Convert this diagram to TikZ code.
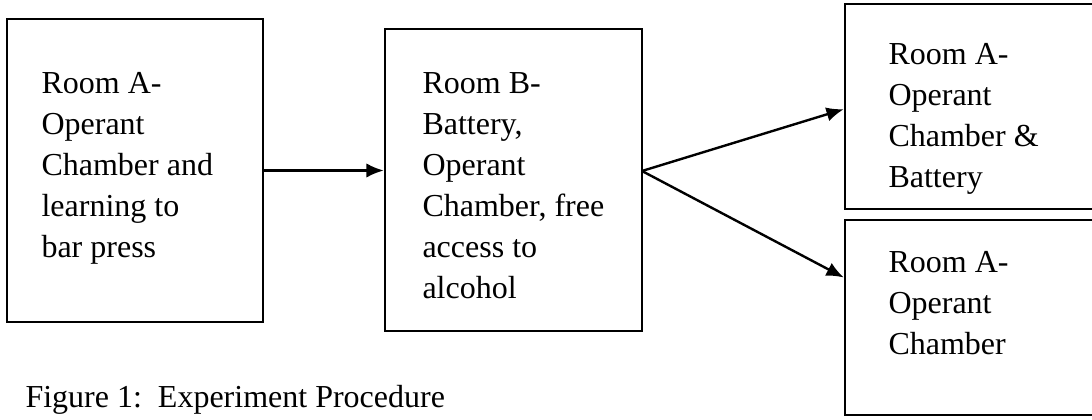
\documentclass[tikz,border=0pt]{standalone}
\usepackage{fontspec}
\setmainfont{Liberation Serif}
\usetikzlibrary{arrows.meta,fit}
\begin{document}
\begin{tikzpicture}[x=0.375pt,y=-0.375pt,
  room/.style={draw,line width=0.9pt,inner sep=0pt},
  txt/.style={align=left,inner sep=0pt,anchor=north west,font=\fontsize{12}{15.4}\selectfont},
  arr/.style={-{Latex[length=6.5pt,width=5.4pt]},line width=0.9pt}]
\useasboundingbox (0,0) rectangle (1092,420);

% the four rooms
\node[room,fit={(7,19) (263,322)}] (b1) {};
\node[room,fit={(385,29) (642,331)}] (b2) {};
\node[room,fit={(845,4) (1100,209)}] (b3) {};
\node[room,fit={(845,220) (1100,415)}] (b4) {};

\node[txt] (t1) at (41,72) {Room A-\\Operant\\Chamber and\\learning to\\bar press};
\node[txt] (t2) at (422,72) {Room B-\\Battery,\\Operant\\Chamber, free\\access to\\alcohol};
\node[txt] (t3) at (888,43) {Room A-\\Operant\\Chamber \&\\Battery};
\node[txt] (t4) at (888,251) {Room A-\\Operant\\Chamber};

\coordinate (fork) at (642,171);
\draw[arr] (b1.east) -- (b1.east -| b2.west);
\draw[arr] (fork) -- ([yshift=-1pt]b3.west);
\draw[arr] (fork) -- ([yshift=15pt]b4.west);

\node[anchor=base west,inner sep=0pt,font=\fontsize{12}{15.4}\selectfont] (cap) at (25,408) {Figure 1:\ \ Experiment Procedure};
\end{tikzpicture}
\end{document}
